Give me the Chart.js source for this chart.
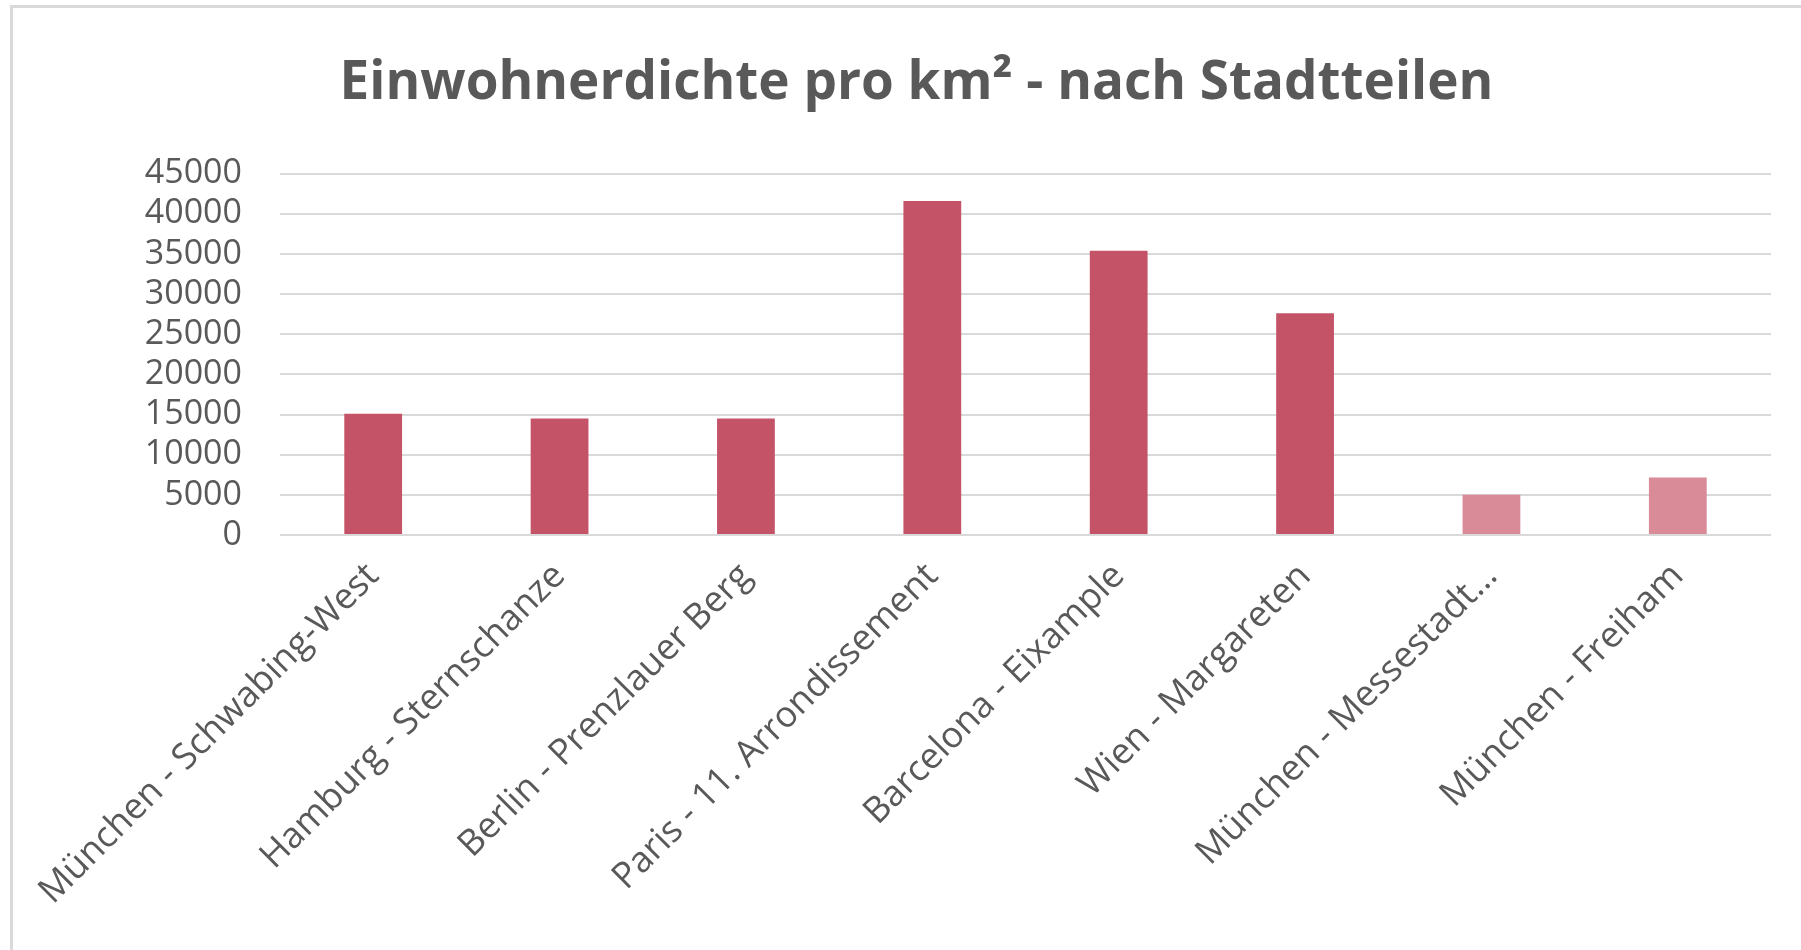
<!DOCTYPE html>
<html>
<head>
<meta charset="utf-8">
<script src="https://cdn.jsdelivr.net/npm/chart.js@4"></script>
<style>
  html, body { margin: 0; padding: 0; background: #fff; }
  #wrap { position: relative; width: 1801px; height: 950px; }
  #frame {
    position: absolute; left: 10px; top: 5px; right: 0; bottom: 0;
    border-top: 3px solid #d9d9d9; border-left: 3px solid #d9d9d9;
    pointer-events: none;
  }
</style>
</head>
<body>
<div id="wrap">
  <canvas id="chart" width="1801" height="950"></canvas>
  <div id="frame"></div>
</div>
<script>
// Einwohnerdichte (Einwohner pro km²) je Stadtteil
const districts = [
  'München - Schwabing-West',
  'Hamburg - Sternschanze',
  'Berlin - Prenzlauer Berg',
  'Paris - 11. Arrondissement',
  'Barcelona - Eixample',
  'Wien - Margareten',
  'München - Messestadt…',
  'München - Freiham'
];
const density = [15100, 14500, 14500, 41600, 35400, 27600, 5000, 7150];
const yTicks = [0, 5000, 10000, 15000, 20000, 25000, 30000, 35000, 40000, 45000];

// die neuen Münchner Viertel heller
const darkRose = '#c55368';
const lightRose = '#d98b98';
const barColors = districts.map((d, i) => (i >= 6 ? lightRose : darkRose));

const fontFamily = '"Open Sans", "Noto Sans", sans-serif';
const textColor = '#595959';

const ctx = document.getElementById('chart').getContext('2d');

new Chart(ctx, {
  type: 'bar',
  data: {
    labels: districts,
    datasets: [{
      label: 'Einwohner pro km²',
      data: density,
      backgroundColor: barColors,
      borderWidth: 0,
      barPercentage: 0.31,
      categoryPercentage: 1.0,
    }],
  },
  options: {
    responsive: false,
    animation: false,
    // left padding shifts the title centre to the right, axis width makes up for it
    layout: { padding: { left: 62, right: 30, top: 0, bottom: 0 } },
    plugins: {
      legend: { display: false },
      tooltip: { enabled: false },
      title: {
        display: true,
        text: 'Einwohnerdichte pro km² - nach Stadtteilen',
        color: textColor,
        font: { family: fontFamily, size: 53, weight: 'bold' },
        padding: { top: 52, bottom: 58 },
      },
    },
    scales: {
      x: {
        grid: { display: false },
        border: { display: false },
        ticks: {
          color: textColor,
          font: { family: fontFamily, size: 36 },
          minRotation: 45,
          maxRotation: 45,
          autoSkip: false,
          padding: 12,
        },
        afterFit: (scale) => { scale.height = 415; },
      },
      y: {
        min: 0,
        max: 45000,
        afterBuildTicks: (scale) => { scale.ticks = yTicks.map(v => ({ value: v })); },
        grid: { color: '#d9d9d9', lineWidth: 2, drawTicks: false },
        border: { display: false },
        ticks: {
          color: textColor,
          font: { family: fontFamily, size: 34 },
          autoSkip: false,
          padding: 38,
          callback: (v) => String(v),
        },
        afterFit: (scale) => { scale.width = 218; },
      },
    },
  },
});
</script>
</body>
</html>
